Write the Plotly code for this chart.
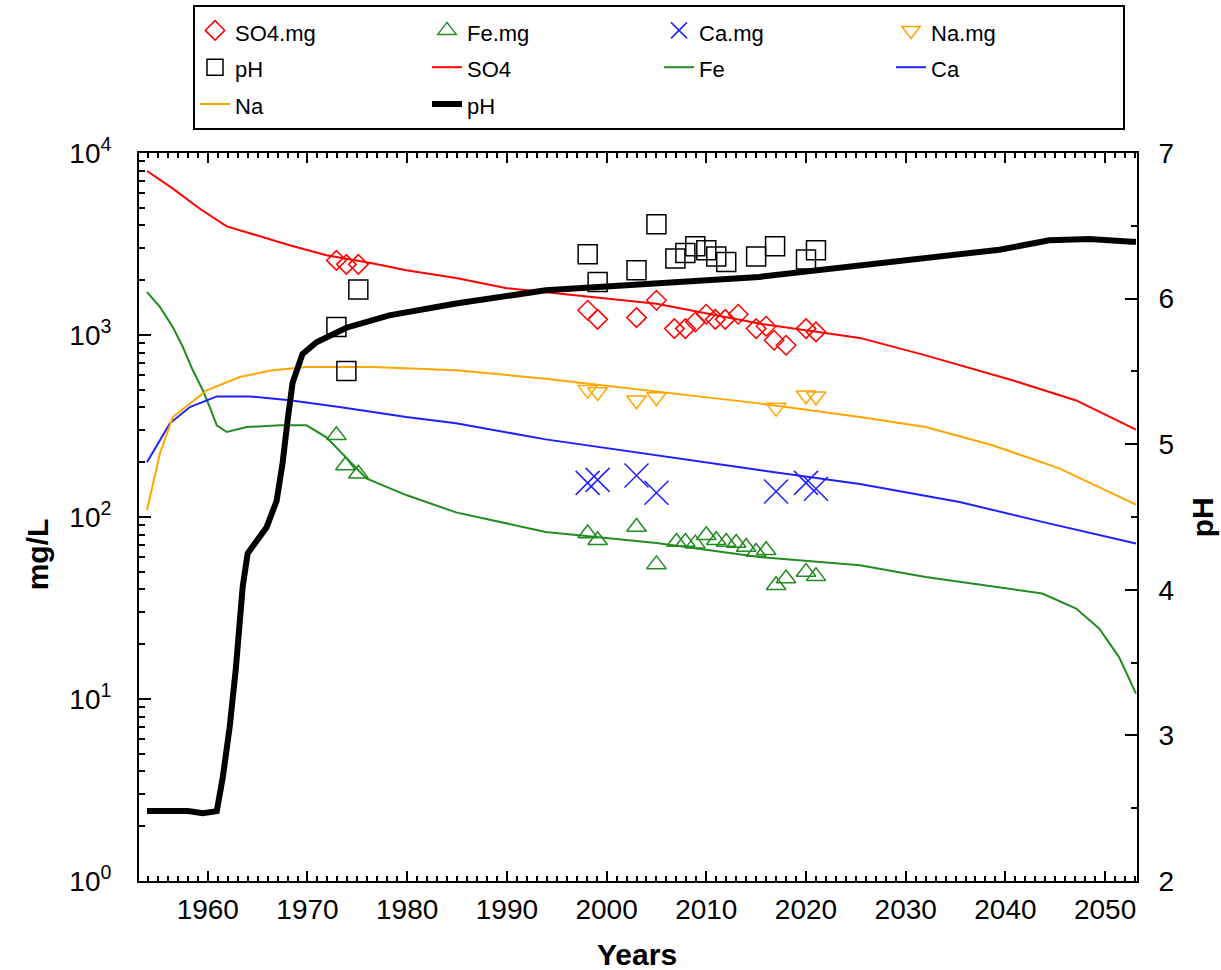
import plotly.graph_objects as go

# ---------------- data ----------------
# model curves (mg/L)
so4_years = [1953.9, 1956.5, 1959.2, 1961.9, 1964.9, 1968.2, 1971.9, 1976.6, 1979.9, 1984.9,
             1990.0, 1993.9, 2005.0, 2015.3, 2025.4, 2032.0, 2040.7, 2047.1, 2053.1]
so4_vals = [7960, 6370, 4940, 3950, 3530, 3110, 2742, 2468, 2268, 2057,
            1808, 1722, 1486, 1156, 964, 773, 564, 437, 302]

fe_years = [1953.9, 1955.2, 1956.5, 1957.5, 1958.5, 1959.5, 1960.2, 1960.9, 1961.9, 1963.9,
            1967.2, 1969.9, 1971.9, 1975.9, 1979.9, 1984.9, 1993.9, 2005.0, 2015.3, 2025.4,
            2032.0, 2040.4, 2043.7, 2047.1, 2049.4, 2051.4, 2053.1]
fe_vals = [1722, 1426, 1102, 859, 640, 497, 402, 319, 293, 312,
           319, 319, 274, 163, 132, 106, 82.8, 72, 60.3, 54.3,
           46.8, 40.4, 38, 31.4, 24.4, 17, 10.7]

ca_years = [1953.9, 1956.2, 1958.2, 1960.9, 1964.2, 1968.2, 1973.2, 1979.9, 1984.9, 1993.9,
            2015.3, 2025.4, 2035.4, 2043.7, 2053.1]
ca_vals = [200, 327, 402, 460, 460, 438, 402, 354, 327, 267,
           181, 152, 121, 94, 71.5]

na_years = [1953.9, 1955.2, 1956.5, 1959.9, 1963.2, 1966.5, 1969.9, 1976.5, 1984.9, 1993.9,
            2015.3, 2025.4, 2032.0, 2038.7, 2045.4, 2053.1]
na_vals = [109, 224, 354, 497, 588, 640, 667, 667, 640, 575,
           421, 354, 312, 248, 185, 117]

ph_years = [1953.9, 1958.0, 1959.5, 1960.9, 1961.5, 1962.2, 1962.8, 1963.0, 1963.5, 1964.0,
            1965.9, 1966.9, 1967.5, 1968.0, 1968.5, 1969.5, 1970.9, 1973.9, 1978.2, 1984.9,
            1993.9, 2015.3, 2025.4, 2039.4, 2044.4, 2048.4, 2052.7, 2053.1]
ph_vals = [2.48, 2.48, 2.465, 2.48, 2.71, 3.06, 3.45, 3.6, 4.02, 4.25,
           4.43, 4.61, 4.87, 5.16, 5.42, 5.62, 5.70, 5.80, 5.885, 5.966,
           6.057, 6.149, 6.229, 6.336, 6.40, 6.41, 6.39, 6.39]

# observations
so4_obs_years = [1972.9, 1973.9, 1975.1, 1998.1, 1999.1, 2003.0, 2005.0, 2006.8, 2007.9, 2008.9,
                 2010.0, 2010.9, 2011.9, 2013.2, 2015.0, 2016.0, 2016.8, 2018.0, 2020.0, 2021.0]
so4_obs = [2570, 2444, 2444, 1368, 1219, 1246, 1552, 1084, 1084, 1178,
           1300, 1219, 1219, 1300, 1084, 1117, 935, 878, 1084, 1040]

fe_obs_years = [1972.9, 1973.8, 1975.1, 1998.1, 1999.1, 2003.0, 2005.0, 2007.0, 2007.9, 2008.9,
                2010.0, 2011.0, 2012.0, 2013.0, 2014.0, 2015.0, 2016.0, 2017.0, 2018.0, 2020.0, 2021.0]
fe_obs = [281, 192, 173, 81.1, 74.5, 88.2, 54.9, 72.9, 72.9, 71.4,
          79.3, 74.5, 72.9, 72.0, 68.4, 64.2, 65.6, 42.2, 45.9, 49.9, 47.2]

ca_obs_years = [1998.1, 1999.1, 2003.0, 2005.0, 2017.0, 2020.0, 2021.0]
ca_obs = [154, 160, 169, 136, 138, 154, 143]

na_obs_years = [1998.1, 1999.1, 2003.0, 2005.0, 2017.0, 2020.0, 2021.0]
na_obs = [501, 486, 438, 456, 399, 467, 461]

ph_obs_years = [1972.9, 1973.9, 1975.1, 1998.1, 1999.1, 2003.0, 2005.0, 2006.9, 2007.9, 2008.9,
                2010.0, 2011.0, 2012.0, 2015.0, 2016.9, 2020.0, 2021.0]
ph_obs = [5.805, 5.503, 6.062, 6.304, 6.114, 6.194, 6.51, 6.275, 6.313, 6.359,
          6.332, 6.29, 6.251, 6.29, 6.359, 6.268, 6.332]

left_tickvals = [1, 10, 100, 1000, 10000]
left_ticktext = ["10<sup>0</sup>", "10<sup>1</sup>", "10<sup>2</sup>", "10<sup>3</sup>", "10<sup>4</sup>"]
left_minor = [m * d for d in [1, 10, 100, 1000] for m in range(2, 10)]

RED = "#FF0000"
GREEN = "#228B22"
BLUE = "#1F1FFF"
ORANGE = "#FFA500"
FONT = "Liberation Sans, Arial, sans-serif"


def lg(name):
    # legend label at 22px inside a taller legend row
    return '<span style="font-size:22px">' + name + '</span>'


fig = go.Figure()

# lines (drawn first, listed later in legend)
fig.add_trace(go.Scatter(x=so4_years, y=so4_vals, mode="lines", name=lg("SO4"),
                         line=dict(color=RED, width=2), legendrank=6))
fig.add_trace(go.Scatter(x=fe_years, y=fe_vals, mode="lines", name=lg("Fe"),
                         line=dict(color=GREEN, width=2), legendrank=7))
fig.add_trace(go.Scatter(x=ca_years, y=ca_vals, mode="lines", name=lg("Ca"),
                         line=dict(color=BLUE, width=2), legendrank=8))
fig.add_trace(go.Scatter(x=na_years, y=na_vals, mode="lines", name=lg("Na"),
                         line=dict(color=ORANGE, width=2), legendrank=9))

# markers
fig.add_trace(go.Scatter(x=so4_obs_years, y=so4_obs, mode="markers", name=lg("SO4.mg"),
                         marker=dict(symbol="diamond-open", size=15, color=RED, line=dict(width=1.5, color=RED)),
                         legendrank=1))
fig.add_trace(go.Scatter(x=fe_obs_years, y=fe_obs, mode="markers", name=lg("Fe.mg"),
                         marker=dict(symbol="triangle-up-open", size=17, color=GREEN, line=dict(width=1.5, color=GREEN)),
                         legendrank=2))
fig.add_trace(go.Scatter(x=ca_obs_years, y=ca_obs, mode="markers", name=lg("Ca.mg"),
                         marker=dict(symbol="x-thin-open", size=24, color=BLUE, line=dict(width=1.5, color=BLUE)),
                         legendrank=3))
fig.add_trace(go.Scatter(x=na_obs_years, y=na_obs, mode="markers", name=lg("Na.mg"),
                         marker=dict(symbol="triangle-down-open", size=17, color=ORANGE, line=dict(width=1.5, color=ORANGE)),
                         legendrank=4))

# pH on right axis
fig.add_trace(go.Scatter(x=ph_years, y=ph_vals, mode="lines", name=lg("pH"), yaxis="y2",
                         line=dict(color="black", width=6), legendrank=10))
fig.add_trace(go.Scatter(x=ph_obs_years, y=ph_obs, mode="markers", name=lg("pH"), yaxis="y2",
                         marker=dict(symbol="square-open", size=19, color="black", line=dict(width=1.5, color="black")),
                         legendrank=5))

axis_common = dict(showgrid=False, zeroline=False, showline=True, linecolor="black", linewidth=2,
                   ticks="inside", tickcolor="black", tickwidth=2,
                   tickfont=dict(family=FONT, size=28, color="black"))

fig.update_layout(
    width=1221, height=970,
    margin=dict(l=139, r=84, t=153, b=89, autoexpand=False),
    paper_bgcolor="white", plot_bgcolor="white",
    font=dict(family=FONT, color="black"),
    xaxis=dict(range=[1953.1, 2053.2], tick0=1960, dtick=10, ticklen=10, mirror="ticks",
               minor=dict(dtick=1, tick0=1960, ticks="inside", ticklen=5, tickcolor="black", tickwidth=1.5),
               ticklabelstandoff=2, **axis_common),
    yaxis=dict(type="log", range=[0, 4], tickmode="array", tickvals=left_tickvals, ticktext=left_ticktext,
               ticklen=12, ticklabelstandoff=20,
               minor=dict(tickmode="array", tickvals=left_minor, ticks="inside", ticklen=6,
                          tickcolor="black", tickwidth=1.5),
               **axis_common),
    yaxis2=dict(overlaying="y", side="right", range=[2, 7], tick0=2, dtick=1, ticklen=12,
                ticklabelstandoff=14,
                minor=dict(dtick=0.5, ticks="inside", ticklen=6, tickcolor="black", tickwidth=1.5),
                **axis_common),
    legend=dict(orientation="h", xref="container", yref="container",
                x=193 / 1221, xanchor="left", y=1 - 5 / 970, yanchor="top",
                entrywidth=187, entrywidthmode="pixels",
                bordercolor="black", borderwidth=2, bgcolor="white",
                font=dict(family=FONT, size=26, color="black"),
                traceorder="normal"),
    annotations=[
        dict(text="<b>Years</b>", xref="paper", yref="paper", x=0.4987, y=-0.1016,
             xanchor="center", yanchor="middle", showarrow=False, font=dict(family=FONT, size=30)),
        dict(text="<b>mg/L</b>", xref="paper", yref="paper", x=-0.102, y=0.449, textangle=-90,
             xanchor="center", yanchor="middle", showarrow=False, font=dict(family=FONT, size=30)),
        dict(text="<b>pH</b>", xref="paper", yref="paper", x=1.0655, y=0.5, textangle=-90,
             xanchor="center", yanchor="middle", showarrow=False, font=dict(family=FONT, size=30)),
    ],
)

fig.write_html("out.html")
